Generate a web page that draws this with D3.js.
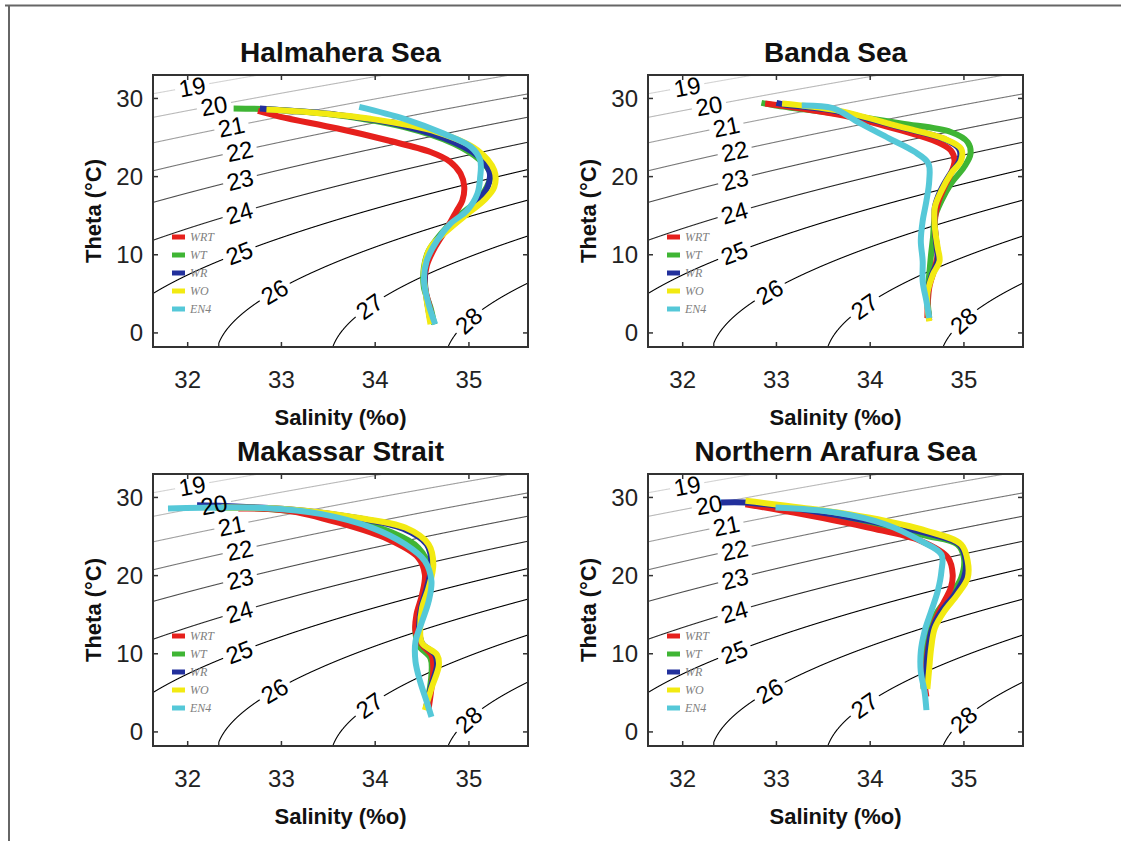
<!DOCTYPE html>
<html><head><meta charset="utf-8">
<script src="https://cdn.jsdelivr.net/npm/d3@7"></script>
<style>body{margin:0;background:#fff} svg{display:block}</style>
</head><body>
<svg id="chart" width="1121" height="841"></svg>
<script>
// ---------- data ----------
const panelTitles = ["Halmahera Sea", "Banda Sea", "Makassar Strait", "Northern Arafura Sea"];
const seriesNames = ["WRT", "WT", "WR", "WO", "EN4"];
const seriesColors = ["#e6201c", "#3fb534", "#22309c", "#f2ea12", "#55c8d8"];
const drawOrder = [1, 0, 2, 3, 4];
const xTicks = [32, 33, 34, 35];
const yTicks = [0, 10, 20, 30];
const contourLevels = [19, 20, 21, 22, 23, 24, 25, 26, 27, 28];
const labelAnchorS = [32.05, 32.29, 32.47, 32.56, 32.56, 32.56, 32.56, 32.92, 33.95, 34.98];
const labelAnchorT = [31.4, 28.5, 26.2, 23.0, 19.5, 15.0, 9.9, 5.4, 3.2, 1.8];

// Halmahera Sea  [salinity, theta]
const halWRT = [[32.75,28.4],[32.99,27.65],[33.6,26.15],[34.13,24.65],[34.59,23.15],[34.8,21.9],[34.91,20.4],[34.95,18.7],[34.93,16.95],[34.87,15.65],[34.77,13.5],[34.64,11.0],[34.55,8.6],[34.53,6.0],[34.58,3.4],[34.62,1.3]];
const halWT  = [[32.49,28.72],[32.88,28.6],[33.6,27.86],[34.3,26.36],[34.84,24.2],[35.12,22.1],[35.23,20.4],[35.19,18.66],[35.05,16.5],[34.87,14.8],[34.7,12.67],[34.57,10.5],[34.52,8.4],[34.52,5.8],[34.59,3.25],[34.63,1.1]];
const halWR  = [[32.77,28.72],[32.95,28.55],[33.6,27.9],[34.3,26.5],[34.84,24.4],[35.1,22.6],[35.22,20.6],[35.2,18.7],[35.08,16.7],[34.92,15.0],[34.74,13.0],[34.6,10.8],[34.53,8.2],[34.54,5.2],[34.59,1.5]];
const halWO  = [[32.84,28.6],[33.24,28.3],[33.95,27.4],[34.66,25.7],[35.09,23.4],[35.27,20.8],[35.27,18.66],[35.16,16.95],[34.98,15.2],[34.77,13.1],[34.59,10.95],[34.52,7.96],[34.54,5.0],[34.59,1.1]];
const halEN4 = [[33.83,28.93],[34.31,27.4],[34.73,25.5],[35.02,23.8],[35.12,22.1],[35.12,19.94],[35.09,17.8],[34.98,15.66],[34.8,13.95],[34.66,11.8],[34.55,9.24],[34.52,6.67],[34.57,3.68],[34.64,1.1]];

// Banda Sea
const banWRT = [[32.88,29.36],[33.27,28.7],[33.8,27.6],[34.33,25.9],[34.72,24.4],[34.86,23.35],[34.9,22.07],[34.86,20.36],[34.79,18.64],[34.72,16.5],[34.69,14.35],[34.7,12.2],[34.72,10.07],[34.69,8.35],[34.63,5.8],[34.61,1.9]];
const banWT  = [[32.84,29.44],[32.99,29.1],[33.63,28.07],[34.33,26.8],[34.86,25.7],[35.04,24.4],[35.07,22.9],[35.0,21.2],[34.86,19.07],[34.76,16.9],[34.69,14.8],[34.67,12.2],[34.65,10.1],[34.63,7.5],[34.61,5.0],[34.63,1.9]];
const banWR  = [[33.0,29.44],[33.1,29.2],[33.63,28.4],[34.33,26.3],[34.79,24.8],[34.95,23.5],[34.95,22.0],[34.85,20.3],[34.75,18.2],[34.69,16.1],[34.69,13.5],[34.71,10.9],[34.72,9.2],[34.66,7.5],[34.61,5.0],[34.63,1.6]];
const banWO  = [[33.06,29.36],[33.63,28.5],[34.33,26.36],[34.79,24.86],[34.97,23.57],[34.97,22.07],[34.86,20.36],[34.76,18.2],[34.69,16.07],[34.69,13.5],[34.72,10.93],[34.74,9.2],[34.67,7.5],[34.61,5.0],[34.63,1.5]];
const banEN4 = [[33.27,29.1],[33.6,28.75],[33.88,26.9],[34.2,24.9],[34.47,23.2],[34.62,21.7],[34.63,19.5],[34.6,16.9],[34.56,14.35],[34.54,11.8],[34.56,9.2],[34.56,6.6],[34.6,4.07],[34.63,1.9]];

// Makassar Strait
const makWRT = [[32.54,28.6],[33.07,28.3],[33.6,26.8],[34.14,24.64],[34.46,22.29],[34.53,20.14],[34.5,17.57],[34.44,15.0],[34.43,12.86],[34.5,11.14],[34.6,9.86],[34.62,8.14],[34.6,5.57],[34.57,3.0]];
const makWT  = [[32.29,28.7],[32.9,28.5],[33.6,27.43],[34.18,25.5],[34.46,23.57],[34.57,21.0],[34.53,18.43],[34.48,15.86],[34.43,13.29],[34.46,11.14],[34.59,9.43],[34.6,7.3],[34.57,4.7]];
const makWR  = [[32.1,29.0],[32.4,28.9],[33.07,28.5],[33.79,27.4],[34.3,26.0],[34.55,24.0],[34.6,21.4],[34.55,18.4],[34.49,15.86],[34.47,13.29],[34.5,11.36],[34.64,9.86],[34.66,8.57],[34.59,5.57],[34.54,3.0]];
const makWO  = [[32.36,28.7],[33.07,28.5],[33.79,27.43],[34.32,26.14],[34.57,24.0],[34.62,21.43],[34.57,18.43],[34.5,15.86],[34.48,13.29],[34.5,11.36],[34.66,9.86],[34.68,8.57],[34.6,5.57],[34.53,2.79]];
const makEN4 = [[31.79,28.6],[32.9,28.6],[33.43,27.86],[33.96,26.14],[34.32,24.0],[34.53,21.86],[34.6,19.3],[34.57,16.7],[34.5,14.14],[34.43,11.57],[34.43,9.0],[34.48,6.43],[34.55,3.86],[34.6,1.93]];

// Northern Arafura Sea
const araWRT = [[32.67,29.14],[33.27,27.86],[33.98,26.14],[34.54,24.43],[34.83,22.29],[34.88,20.14],[34.86,18.43],[34.79,16.7],[34.69,14.14],[34.63,11.57],[34.6,9.0],[34.58,6.5],[34.6,4.5]];
const araWT  = [[32.67,29.36],[33.27,28.29],[33.98,26.57],[34.61,25.07],[34.93,24.0],[35.0,22.29],[34.97,19.7],[34.86,17.57],[34.72,15.43],[34.63,12.86],[34.58,10.29],[34.56,8.14],[34.57,5.5]];
const araWR  = [[32.41,29.36],[32.67,29.36],[33.27,28.5],[33.98,27.0],[34.61,25.4],[34.95,24.0],[35.02,21.9],[35.0,19.7],[34.9,17.57],[34.76,15.43],[34.66,13.1],[34.62,10.5],[34.6,8.1],[34.6,5.5]];
const araWO  = [[32.67,29.57],[33.27,28.7],[33.98,27.43],[34.61,25.7],[34.97,24.0],[35.04,21.86],[35.04,19.7],[34.93,17.57],[34.79,15.43],[34.69,13.29],[34.65,10.7],[34.63,8.14],[34.61,5.5]];
const araEN4 = [[32.99,28.7],[33.63,28.07],[34.16,26.57],[34.54,24.43],[34.76,22.7],[34.76,20.57],[34.72,18.0],[34.65,15.43],[34.58,12.86],[34.54,10.29],[34.54,7.7],[34.58,5.14],[34.6,2.79]];

const panelSeries = [
  [halWRT, halWT, halWR, halWO, halEN4],
  [banWRT, banWT, banWR, banWO, banEN4],
  [makWRT, makWT, makWR, makWO, makEN4],
  [araWRT, araWT, araWR, araWO, araEN4]
];

// ---------- layout ----------
const W = 375, H = 272;
const panelOrigins = [[153, 75], [648, 75], [153, 474], [648, 474]];
const font = "'Liberation Sans', Arial, Helvetica, sans-serif";

// UNESCO 1980 equation of state at the surface (sigma-theta)
function sigma(S, T) {
  const rw = 999.842594 + 6.793952e-2*T - 9.095290e-3*T*T + 1.001685e-4*T**3 - 1.120083e-6*T**4 + 6.536332e-9*T**5;
  const A = 8.24493e-1 - 4.0899e-3*T + 7.6438e-5*T*T - 8.2467e-7*T**3 + 5.3875e-9*T**4;
  const B = -5.72466e-3 + 1.0227e-4*T - 1.6546e-6*T*T;
  const C = 4.8314e-4;
  return rw + A*S + B*Math.pow(S, 1.5) + C*S*S - 1000;
}
function thetaOn(level, S) {
  let lo = -12, hi = 45;
  for (let k = 0; k < 60; k++) {
    const mid = (lo + hi) / 2;
    if (sigma(S, mid) > level) lo = mid; else hi = mid;
  }
  return (lo + hi) / 2;
}

const svg = d3.select("#chart");
// outer frame
svg.append("line").attr("x1", 5).attr("x2", 1121).attr("y1", 5.5).attr("y2", 5.5).attr("stroke", "#666").attr("stroke-width", 2);
svg.append("line").attr("x1", 9).attr("x2", 9).attr("y1", 5).attr("y2", 841).attr("stroke", "#666").attr("stroke-width", 2);

const x = d3.scaleLinear().domain([31.63, 35.63]).range([0, W]);
const y = d3.scaleLinear().domain([-1.8, 33]).range([H, 0]);
const contourColor = d3.scaleLinear().domain([19, 21, 23, 25]).range(["#d4d4d4", "#a0a0a0", "#505050", "#000000"]).clamp(true);
const lineGen = d3.line().x(d => x(d[0])).y(d => y(d[1])).curve(d3.curveCatmullRom.alpha(0.5));

const defs = svg.append("defs");
const sSamples = d3.range(30.8, 36.4, 0.002);

panelTitles.forEach((title, p) => {
  const [ox, oy] = panelOrigins[p];
  const g = svg.append("g").attr("transform", `translate(${ox},${oy})`);
  const clipId = "clip" + p;
  defs.append("clipPath").attr("id", clipId).append("rect").attr("width", W).attr("height", H);

  const labelG = g.append("g");
  const mask = defs.append("mask").attr("id", "mask" + p).attr("maskUnits", "userSpaceOnUse")
    .attr("x", -50).attr("y", -50).attr("width", W + 100).attr("height", H + 100);
  mask.append("rect").attr("x", -50).attr("y", -50).attr("width", W + 100).attr("height", H + 100).attr("fill", "#fff");

  const contourG = g.append("g").attr("clip-path", `url(#${clipId})`).append("g").attr("mask", `url(#mask${p})`);
  const labelInfo = [];
  contourLevels.forEach((lv, i) => {
    const pts = sSamples.map(s => [s, thetaOn(lv, s)]);
    contourG.append("path").datum(pts)
      .attr("d", d3.line().x(d => x(d[0])).y(d => y(d[1])))
      .attr("fill", "none").attr("stroke", contourColor(lv)).attr("stroke-width", 1.1);
    const px = pts.map(d => [x(d[0]), y(d[1])]);
    const ax = x(labelAnchorS[i]), ay = y(labelAnchorT[i]);
    let best = 0, bd = Infinity;
    px.forEach((q, j) => { const d = (q[0]-ax)**2 + (q[1]-ay)**2; if (d < bd) { bd = d; best = j; } });
    let a = best, b = best;
    while (a > 0 && Math.hypot(px[a][0]-px[best][0], px[a][1]-px[best][1]) < 10) a--;
    while (b < px.length-1 && Math.hypot(px[b][0]-px[best][0], px[b][1]-px[best][1]) < 10) b++;
    let ang = Math.atan2(px[b][1]-px[a][1], px[b][0]-px[a][0]) * 180 / Math.PI;
    if (ang > 90) ang -= 180; if (ang < -90) ang += 180;
    labelInfo.push({ lv, cx: px[best][0], cy: px[best][1], ang });
  });

  // profiles
  const profG = g.append("g").attr("clip-path", `url(#${clipId})`);
  drawOrder.forEach(si => {
    profG.append("path").datum(panelSeries[p][si])
      .attr("d", lineGen).attr("fill", "none")
      .attr("stroke", seriesColors[si]).attr("stroke-width", 6)
      .attr("stroke-linecap", "butt").attr("stroke-linejoin", "round");
  });

  // labels on top
  labelInfo.forEach(L => {
    const t = labelG.append("text").text(L.lv)
      .attr("transform", `translate(${L.cx},${L.cy}) rotate(${L.ang})`)
      .attr("text-anchor", "middle").attr("dy", "0.36em")
      .attr("font-family", font).attr("font-size", 24).attr("fill", "#000");
    const w = t.node().getComputedTextLength();
    mask.append("rect").attr("x", -w/2 - 4).attr("y", -10).attr("width", w + 8).attr("height", 20)
      .attr("transform", `translate(${L.cx},${L.cy}) rotate(${L.ang})`).attr("fill", "#000");
  });
  labelG.raise();

  // legend
  const leg = g.append("g");
  seriesNames.forEach((nm, i) => {
    const ly = 162 + i * 18;
    leg.append("line").attr("x1", 19).attr("x2", 32).attr("y1", ly).attr("y2", ly)
      .attr("stroke", seriesColors[i]).attr("stroke-width", 5);
    leg.append("text").attr("x", 37).attr("y", ly + 4).text(nm)
      .attr("font-family", "'Liberation Serif', 'DejaVu Serif', serif").attr("font-style", "italic")
      .attr("font-size", 12).attr("fill", "#808080");
  });

  // box and ticks
  g.append("rect").attr("width", W).attr("height", H).attr("fill", "none").attr("stroke", "#333").attr("stroke-width", 2);
  xTicks.forEach(t => {
    g.append("line").attr("x1", x(t)).attr("x2", x(t)).attr("y1", H).attr("y2", H - 5).attr("stroke", "#333").attr("stroke-width", 1.5);
    g.append("line").attr("x1", x(t)).attr("x2", x(t)).attr("y1", 0).attr("y2", 5).attr("stroke", "#333").attr("stroke-width", 1.5);
    g.append("text").attr("x", x(t)).attr("y", H + 41).attr("text-anchor", "middle").text(t)
      .attr("font-family", font).attr("font-size", 24).attr("fill", "#222");
  });
  yTicks.forEach(t => {
    g.append("line").attr("x1", 0).attr("x2", 5).attr("y1", y(t)).attr("y2", y(t)).attr("stroke", "#333").attr("stroke-width", 1.5);
    g.append("line").attr("x1", W).attr("x2", W - 5).attr("y1", y(t)).attr("y2", y(t)).attr("stroke", "#333").attr("stroke-width", 1.5);
    g.append("text").attr("x", -10).attr("y", y(t) + 8.5).attr("text-anchor", "end").text(t)
      .attr("font-family", font).attr("font-size", 24).attr("fill", "#222");
  });

  // titles and axis labels
  g.append("text").attr("x", W / 2).attr("y", -13).attr("text-anchor", "middle").text(title)
    .attr("font-family", font).attr("font-weight", "bold").attr("font-size", 28).attr("fill", "#111");
  g.append("text").attr("x", W / 2).attr("y", H + 78).attr("text-anchor", "middle").text("Salinity (%o)")
    .attr("font-family", font).attr("font-weight", "bold").attr("font-size", 22).attr("fill", "#111");
  g.append("text").attr("transform", `translate(-52,${H / 2}) rotate(-90)`).attr("text-anchor", "middle").text("Theta (°C)")
    .attr("font-family", font).attr("font-weight", "bold").attr("font-size", 22).attr("fill", "#111");
});
</script>
</body></html>
